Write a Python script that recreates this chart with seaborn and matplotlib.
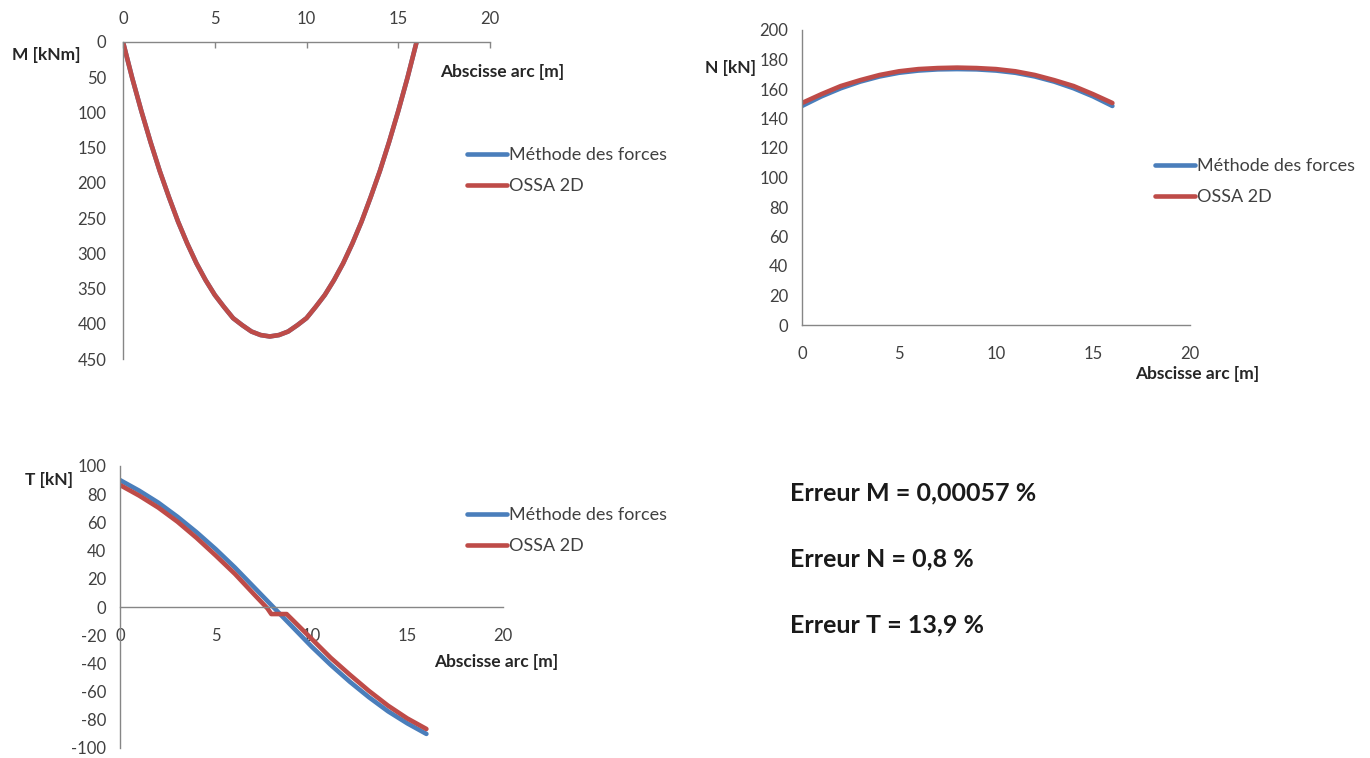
import pandas as pd
import matplotlib.pyplot as plt
import numpy as np
import seaborn as sns

# ---------------------------------------------------------
# Data
# ---------------------------------------------------------
abscisse = [0, 1, 2, 3, 4, 5, 6, 7, 8, 9, 10, 11, 12, 13, 14, 15, 16]
abscisse_m = [0, 0.5, 1, 1.5, 2, 2.5, 3, 3.5, 4, 4.5, 5, 5.5, 6, 6.5, 7, 7.5, 8,
              8.5, 9, 9.5, 10, 10.5, 11, 11.5, 12, 12.5, 13, 13.5, 14, 14.5, 15, 15.5, 16]

# Bending moment M [kNm]
m_forces = [0, 51, 98, 142, 183, 220, 255, 286, 314, 338, 359, 376, 392, 402, 411, 416, 418,
            416, 411, 402, 392, 376, 359, 338, 314, 286, 255, 220, 183, 142, 98, 51, 0]
m_ossa = [0, 51, 98, 142, 183, 220, 255, 286, 314, 338, 359, 376, 392, 402, 411, 416, 418,
          416, 411, 402, 392, 376, 359, 338, 314, 286, 255, 220, 183, 142, 98, 51, 0]

# Normal force N [kN]
n_forces = [148.5, 155, 160.5, 165, 168.5, 171, 172.5, 173.3, 173.5, 173.3, 172.5, 171,
            168.5, 165, 160.5, 155, 148.5]
n_ossa = [150.5, 156.5, 162, 166, 169.5, 172, 173.5, 174.2, 174.5, 174.2, 173.5, 172,
          169.5, 166, 162, 156.5, 150.5]

# Shear force T [kN]
t_forces = [90, 82.5, 74, 64, 53, 41, 28, 14, 0, -14, -28, -41, -53, -64, -74, -82.5, -90]
t_ossa_x = [0, 1, 2, 3, 4, 5, 6, 7, 7.7, 7.9, 8.5, 8.7, 9, 10, 11, 12, 13, 14, 15, 16]
t_ossa = [86.5, 79, 70.5, 60.5, 49, 36.5, 23.5, 9, -1, -5, -5, -5, -9, -22.5, -36, -48,
          -59.5, -70, -79, -86.5]

labels = ['Méthode des forces', 'OSSA 2D']
erreurs = ['Erreur M = 0,00057 %', 'Erreur N = 0,8 %', 'Erreur T = 13,9 %']

# ---------------------------------------------------------
# Style
# ---------------------------------------------------------
sns.set_theme(style='white')
plt.rcParams['font.family'] = ['Lato', 'DejaVu Sans']
plt.rcParams['axes.unicode_minus'] = False

BLEU = '#4a7ebb'
ROUGE = '#be4b48'
GRIS = '#868686'
TEXTE = '#404040'
LW = 3.3

W, H = 1370, 758
fig = plt.figure(figsize=(W / 100, H / 100), dpi=100)


def box(x0, y0, x1, y1):
    # pixel box -> figure fraction
    return [x0 / W, 1 - y1 / H, (x1 - x0) / W, (y1 - y0) / H]


def style_axes(ax):
    for s in ax.spines.values():
        s.set_color(GRIS)
        s.set_linewidth(1)
    ax.tick_params(colors=GRIS, labelcolor=TEXTE, labelsize=12, length=4, width=1)
    ax.set_xlabel('')
    ax.set_ylabel('')


def legend(ax, px, py):
    ax.legend(loc='upper left', bbox_to_anchor=(px / W, 1 - py / H),
              bbox_transform=fig.transFigure, frameon=False, fontsize=13,
              handlelength=2.2, handletextpad=0.1, labelspacing=0.85,
              borderpad=0, borderaxespad=0, labelcolor=TEXTE)


# ---------------------------------------------------------
# M chart
# ---------------------------------------------------------
axM = fig.add_axes(box(123, 42, 490, 359))
sns.lineplot(x=abscisse_m, y=m_forces, ax=axM, color=BLEU, lw=LW, label=labels[0])
sns.lineplot(x=abscisse_m, y=m_ossa, ax=axM, color=ROUGE, lw=LW, label=labels[1])
axM.set_xlim(0, 20)
axM.set_ylim(450, 0)
axM.set_xticks(range(0, 21, 5))
axM.set_yticks(range(0, 451, 50))
axM.xaxis.tick_top()
axM.spines['bottom'].set_visible(False)
axM.spines['right'].set_visible(False)
style_axes(axM)
axM.tick_params(axis='x', direction='in', pad=11)
axM.tick_params(axis='y', pad=8)
legend(axM, 467, 147)

# ---------------------------------------------------------
# N chart
# ---------------------------------------------------------
axN = fig.add_axes(box(802, 30, 1190, 325))
sns.lineplot(x=abscisse, y=n_forces, ax=axN, color=BLEU, lw=LW, label=labels[0])
sns.lineplot(x=abscisse, y=n_ossa, ax=axN, color=ROUGE, lw=LW, label=labels[1])
axN.set_xlim(0, 20)
axN.set_ylim(0, 200)
axN.set_xticks(range(0, 21, 5))
axN.set_yticks(range(0, 201, 20))
axN.spines['top'].set_visible(False)
axN.spines['right'].set_visible(False)
style_axes(axN)
axN.tick_params(axis='x', pad=11)
axN.tick_params(axis='y', pad=6)
legend(axN, 1155, 158)

# ---------------------------------------------------------
# T chart
# ---------------------------------------------------------
axT = fig.add_axes(box(120, 466, 503, 748))
sns.lineplot(x=abscisse, y=t_forces, ax=axT, color=BLEU, lw=LW, label=labels[0])
sns.lineplot(x=t_ossa_x, y=t_ossa, ax=axT, color=ROUGE, lw=LW, label=labels[1])
axT.set_xlim(0, 20)
axT.set_ylim(-100, 100)
axT.set_xticks(range(0, 21, 5))
axT.set_yticks(range(-100, 101, 20))
axT.spines['top'].set_visible(False)
axT.spines['right'].set_visible(False)
axT.spines['bottom'].set_position(('data', 0))
style_axes(axT)
axT.tick_params(axis='x', pad=11)
axT.tick_params(axis='y', pad=6)
legend(axT, 467, 507)

# ---------------------------------------------------------
# Axis titles and error texts
# ---------------------------------------------------------
titres = [('M [kNm]', 12, 55), ('Abscisse arc [m]', 440, 72),
          ('N [kN]', 705, 68), ('Abscisse arc [m]', 1135, 374),
          ('T [kN]', 25, 480), ('Abscisse arc [m]', 434, 662)]
for txt, px, py in titres:
    fig.text(px / W, 1 - py / H, txt, fontsize=12.5, fontweight='bold',
             color='#262626', ha='left', va='center')

for txt, py in zip(erreurs, [493, 559, 625]):
    fig.text(790 / W, 1 - py / H, txt, fontsize=18, fontweight='bold',
             color='#1a1a1a', ha='left', va='center')

fig.savefig('out.png', dpi=100)
